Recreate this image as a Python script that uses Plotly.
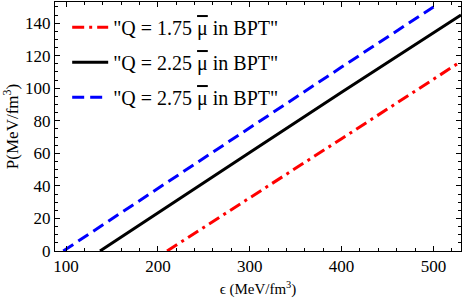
import plotly.graph_objects as go

# Data
red_eps = [210, 300, 400, 530]
red_p = [0, 32.5, 69, 116.5]
black_eps = [137, 200, 300, 400, 530]
black_p = [0, 23.5, 60.5, 97.5, 145]
blue_eps = [97, 200, 300, 400, 500]
blue_p = [0, 38.5, 76, 113, 150]

mu_bar = '<span style="text-decoration:overline">\u03bc</span>'
names = ['"Q = 1.75 ' + mu_bar + ' in BPT"', '"Q = 2.25 ' + mu_bar + ' in BPT"', '"Q = 2.75 ' + mu_bar + ' in BPT"']

fig = go.Figure()
fig.add_trace(go.Scatter(x=red_eps, y=red_p, mode="lines", name=names[0],
                         line=dict(color="red", width=3, dash="12px,5px,3px,5px"), legendgroup="a"))
fig.add_trace(go.Scatter(x=black_eps, y=black_p, mode="lines", name=names[1],
                         line=dict(color="black", width=3), legendgroup="b"))
fig.add_trace(go.Scatter(x=blue_eps, y=blue_p, mode="lines", name=names[2],
                         line=dict(color="blue", width=3, dash="12px,6px"), legendgroup="c"))

font = "Liberation Serif"
axis_common = dict(showline=True, linecolor="black", linewidth=1, mirror="ticks",
                   ticks="inside", tickcolor="black", ticklen=5, showgrid=False,
                   zeroline=False, automargin=False,
                   tickfont=dict(family=font, size=17, color="black"))
fig.update_xaxes(range=[88, 530], tickvals=[100, 200, 300, 400, 500],
                 minor=dict(ticks="inside", ticklen=3, dtick=20, tick0=0, tickcolor="black"),
                 title=dict(text="\u03f5 (MeV/fm<sup>3</sup>)", font=dict(family=font, size=15, color="black"), standoff=8),
                 **axis_common)
fig.update_yaxes(range=[0, 153], tickvals=[0, 20, 40, 60, 80, 100, 120, 140],
                 minor=dict(ticks="inside", ticklen=3, dtick=5, tick0=0, tickcolor="black"),
                 title=dict(text="P(MeV/fm<sup>3</sup>)", font=dict(family=font, size=17, color="black"), standoff=4),
                 **axis_common)
fig.update_layout(width=463, height=301, margin=dict(l=55, r=2, t=2, b=50),
                  paper_bgcolor="white", plot_bgcolor="white",
                  legend=dict(x=0.03, y=0.977, xanchor="left", yanchor="top",
                              font=dict(family=font, size=20, color="black"),
                              itemwidth=36,
                              bgcolor="rgba(0,0,0,0)", traceorder="grouped", tracegroupgap=6))
fig.write_html("out.html", config={"displayModeBar": False},
               post_script="document.body.style.margin='0';")
